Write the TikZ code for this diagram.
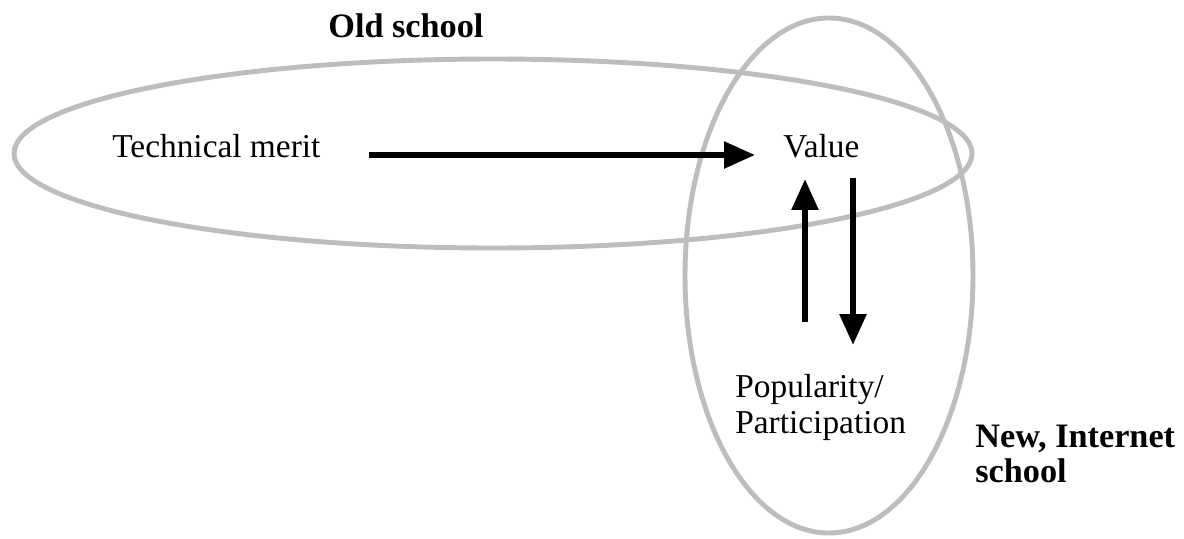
\documentclass[tikz,border=0pt]{standalone}
\usepackage{fontspec}
\setmainfont{Liberation Serif}
\usetikzlibrary{calc, arrows.meta}
\definecolor{ringgray}{RGB}{189,189,189}

\begin{document}
\begin{tikzpicture}[x=0.02cm, y=-0.02cm,
    ring/.style={draw=ringgray, line width=2.8pt},
    arr/.style={line width=3.4pt, -{Triangle[length=17.6pt, width=14.7pt]}},
    label/.style={inner sep=0pt, font=\fontsize{19}{20.4}\selectfont},
    school/.style={inner sep=0pt, font=\bfseries\fontsize{19.5}{19.8}\selectfont}]
            \useasboundingbox (0,0) rectangle (1184,538);
            \draw[ring] (493,153.5) ellipse [x radius=479, y radius=94.5];
            \draw[ring] (829,275.5) ellipse [x radius=144, y radius=257.5];
            \node[school, anchor=base west] (old) at (328,37) {Old school};
            \node[school, anchor=north west, align=left] (new) at (975,425) {New, Internet\\school};
            \node[label, anchor=base west] (tech) at (112,157) {Technical merit};
            \node[label, anchor=base west] (value) at (783,157) {Value};
            \node[label, anchor=north west, align=left] (pop) at (735,374) {Popularity/\\Participation};
            \draw[arr] ($(tech.base east)+(48,-2)$) -- ($(value.base west)+(-28,-2)$);
            \draw[arr] ($(pop.north west)+(70,-52)$) -- ($(value.base west)+(22,22)$);
            \draw[arr] ($(value.base west)+(70,21)$) -- ($(pop.north west)+(118,-29)$);
        \end{tikzpicture}
\end{document}
